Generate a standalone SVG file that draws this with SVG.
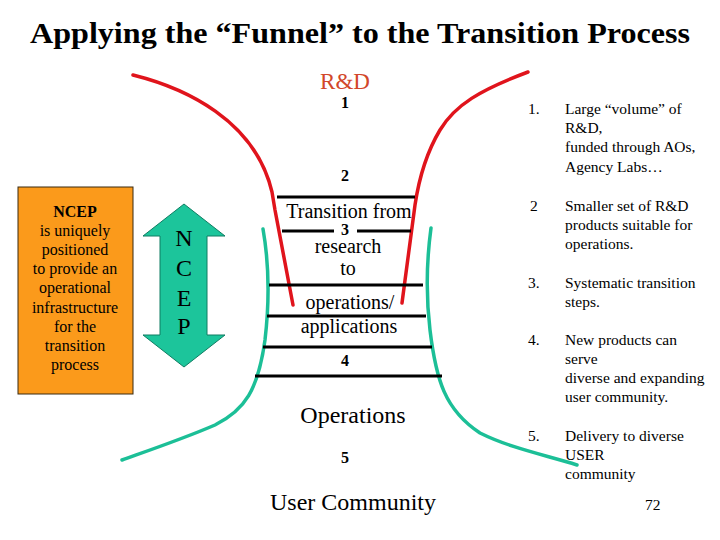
<svg xmlns="http://www.w3.org/2000/svg" width="720" height="540" viewBox="0 0 720 540" font-family="'Liberation Serif','Times New Roman',serif">
<defs>
<style>
text{font-family:"Liberation Serif","Times New Roman",serif;fill:#000}
.title{font-size:30px;font-weight:bold}
.num{font-size:16px;font-weight:bold;text-anchor:middle}
.mid{font-size:20px;text-anchor:middle}
.big{font-size:24px;text-anchor:middle}
.box{font-size:16px;text-anchor:middle}
.lst{font-size:15.5px}
.red{fill:none;stroke:#e0141c;stroke-width:3.5;stroke-linecap:round}
.teal{fill:none;stroke:#1cbf97;stroke-width:3.5;stroke-linecap:round}
.bar{stroke:#000;stroke-width:3}
</style>
</defs>
<rect width="720" height="540" fill="#fff"/>
<text class="title" x="360" y="43" text-anchor="middle" textLength="660" lengthAdjust="spacingAndGlyphs">Applying the “Funnel” to the Transition Process</text>

<g id="connectors">
<path class="red" d="M133,75 C185,88 255,120 272,192 L275,210 L293,305"/>
<path class="red" d="M528,72 C480,90 455,105 440,130 C425,155 418,185 415,205 L402,303"/>
<path class="teal" d="M263,229 Q272,280 265,340 C258,390 245,410 215,425 C185,438 150,450 122,460"/>
<path class="teal" d="M431,228 Q424,280 430,330 C436,380 445,410 480,433 C510,448 545,455 577,465"/>
<line class="bar" x1="277" y1="197" x2="415" y2="197"/>
<line class="bar" x1="282" y1="231" x2="334" y2="231"/>
<line class="bar" x1="357" y1="231" x2="411" y2="231"/>
<line class="bar" x1="269" y1="285" x2="423" y2="285"/>
<line class="bar" x1="267" y1="316" x2="426" y2="316"/>
<line class="bar" x1="263" y1="347" x2="432" y2="347"/>
<line class="bar" x1="255" y1="376" x2="442" y2="376"/>
</g>

<g id="funnel-labels">
<text x="345" y="89" text-anchor="middle" font-size="23" style="fill:#d2472a">R&amp;D</text>
<text class="num" x="345" y="108">1</text>
<text class="num" x="345" y="181">2</text>
<text class="mid" x="349" y="218">Transition from</text>
<text class="num" x="345" y="235" font-size="15">3</text>
<text class="mid" x="348" y="253">research</text>
<text class="mid" x="348" y="275">to</text>
<text class="mid" x="350" y="309">operations/</text>
<text class="mid" x="349" y="333">applications</text>
<text class="num" x="345" y="366">4</text>
<text class="big" x="353" y="423">Operations</text>
<text class="num" x="345" y="463">5</text>
<text class="big" x="353" y="510">User Community</text>
</g>

<g id="ncep-box">
<rect x="18" y="187" width="115" height="207" fill="#fb9a1b" stroke="#3a2a10" stroke-width="1"/>
<text class="box" x="75" y="217" font-weight="bold">NCEP</text>
<text class="box" x="75" y="236">is uniquely</text>
<text class="box" x="75" y="255">positioned</text>
<text class="box" x="75" y="274">to provide an</text>
<text class="box" x="75" y="293">operational</text>
<text class="box" x="75" y="313">infrastructure</text>
<text class="box" x="75" y="332">for the</text>
<text class="box" x="75" y="351">transition</text>
<text class="box" x="75" y="370">process</text>
</g>

<g id="ncep-arrow">
<polygon points="184,204 225,236 207,236 207,335 225,335 184,367 143,335 160,335 160,236 143,236" fill="#1cc59b" stroke="#0f7d62" stroke-width="1"/>
<text x="184" y="246" text-anchor="middle" font-size="24">N</text>
<text x="184" y="276" text-anchor="middle" font-size="24">C</text>
<text x="184" y="306" text-anchor="middle" font-size="24">E</text>
<text x="184" y="334" text-anchor="middle" font-size="24">P</text>
</g>

<g id="list">
<text class="lst" x="528" y="114">1.</text>
<text class="lst" x="565" y="114">Large “volume” of</text>
<text class="lst" x="565" y="133">R&amp;D,</text>
<text class="lst" x="565" y="152">funded through AOs,</text>
<text class="lst" x="565" y="172">Agency Labs…</text>
<text class="lst" x="530" y="211">2</text>
<text class="lst" x="565" y="211">Smaller set of R&amp;D</text>
<text class="lst" x="565" y="230">products suitable for</text>
<text class="lst" x="565" y="249">operations.</text>
<text class="lst" x="528" y="288">3.</text>
<text class="lst" x="565" y="288">Systematic transition</text>
<text class="lst" x="565" y="307">steps.</text>
<text class="lst" x="528" y="345">4.</text>
<text class="lst" x="565" y="345">New products can</text>
<text class="lst" x="565" y="364">serve</text>
<text class="lst" x="565" y="383">diverse and expanding</text>
<text class="lst" x="565" y="402">user community.</text>
<text class="lst" x="528" y="441">5.</text>
<text class="lst" x="565" y="441">Delivery to diverse</text>
<text class="lst" x="565" y="460">USER</text>
<text class="lst" x="565" y="479">community</text>
<text class="lst" x="645" y="510">72</text>
</g>
</svg>
